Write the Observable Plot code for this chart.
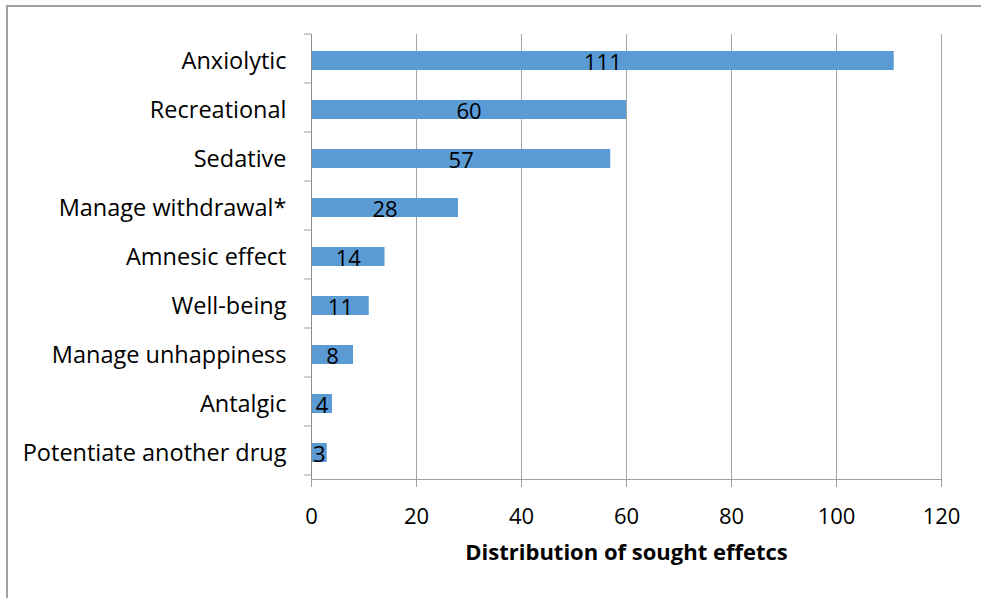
<!DOCTYPE html>
<html>
<head>
<meta charset="utf-8">
<script src="https://cdn.jsdelivr.net/npm/d3@7"></script>
<script src="https://cdn.jsdelivr.net/npm/@observablehq/plot@0.6"></script>
<style>
  html, body { margin: 0; padding: 0; background: #fff; }
  #wrap { position: relative; width: 981px; height: 598px; overflow: hidden; }
  #border { position: absolute; left: 6px; top: 5px; right: -10px; bottom: -10px; border-left: 2px solid #a0a0a0; border-top: 2px solid #a0a0a0; pointer-events: none; }
  svg { font-family: "Open Sans", sans-serif; }
</style>
</head>
<body>
<div id="wrap"><div id="border"></div></div>
<script>
const categories = ["Anxiolytic", "Recreational", "Sedative", "Manage withdrawal*", "Amnesic effect", "Well-being", "Manage unhappiness", "Antalgic", "Potentiate another drug"];
const values = [111, 60, 57, 28, 14, 11, 8, 4, 3];
const xTicks = [0, 20, 40, 60, 80, 100, 120];
const axisTitle = "Distribution of sought effetcs";

const data = categories.map((c, i) => ({category: c, value: values[i]}));
const FONT = "'Open Sans', sans-serif";

const chart = Plot.plot({
  width: 981,
  height: 598,
  marginLeft: 311,
  marginRight: 40,
  marginTop: 34,
  marginBottom: 119,
  style: {fontFamily: FONT, fontSize: "22px", color: "#000", background: "transparent"},
  x: {domain: [0, 120], ticks: xTicks},
  y: {domain: categories, padding: 0},
  marks: [
    Plot.gridX(xTicks, {stroke: "#a6a6a6", strokeOpacity: 1, strokeWidth: 1}),
    Plot.barX(data, {x: "value", y: "category", fill: "#5b9bd5", insetTop: 15, insetBottom: 15}),
    Plot.ruleX([0], {stroke: "#8c8c8c", strokeWidth: 1}),
    Plot.text(data, {x: d => d.value / 2, y: "category", text: d => String(d.value), dy: 2, fontSize: 22, fill: "#000"}),
    Plot.axisY({tickSize: 0, tickPadding: 25, fontSize: 23.5, label: null}),
    Plot.axisX(xTicks, {tickSize: 8, tickPadding: 21, fontSize: 22, stroke: "#a0a0a0", label: null}),
    Plot.text([axisTitle], {frameAnchor: "bottom", dy: 80, fontSize: 22, fontWeight: "bold", fill: "#000"})
  ]
});

document.getElementById("wrap").prepend(chart);

// axis line & category boundary ticks derived from scales
const ys = chart.scale("y");
const xs = chart.scale("x");
const svg = d3.select(chart);
const x0 = xs.apply(0);
const [yTop, yBot] = [ys.range[0], ys.range[1]];
const g = svg.append("g").attr("stroke", "#a0a0a0").attr("stroke-width", 1);
g.append("line").attr("x1", x0).attr("x2", xs.apply(120)).attr("y1", yBot + 0.5).attr("y2", yBot + 0.5);
for (let i = 0; i <= categories.length; i++) {
  const y = yTop + i * ys.step;
  g.append("line").attr("x1", x0 - 7).attr("x2", x0).attr("y1", y).attr("y2", y);
}
</script>
</body>
</html>
